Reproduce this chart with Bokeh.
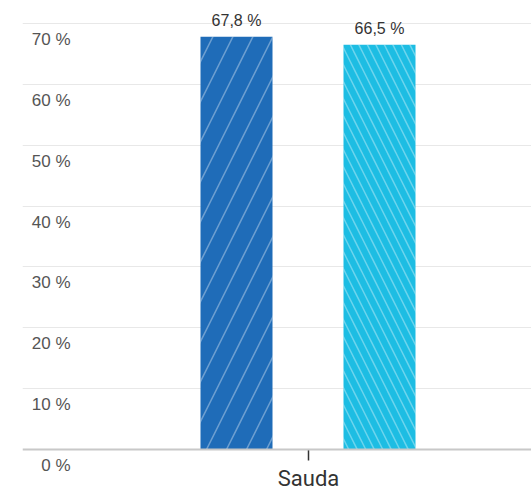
from bokeh.plotting import figure
from bokeh.models import FixedTicker, Span
from bokeh.core.properties import value
from bokeh.embed import file_html
from bokeh.resources import INLINE

categories = ["Sauda"]
series_names = ["A", "B"]
series_values = [67.8, 66.5]
value_labels = ["67,8 %", "66,5 %"]
y_ticks = [0, 10, 20, 30, 40, 50, 60, 70]
y_tick_labels = ["0 %", "10 %", "20 %", "30 %", "40 %", "50 %", "60 %", "70 %"]
colors = ["#1f6cb8", "#1dbde3"]
hatches = ["/", "\\"]
hatch_scales = [40, 17]

px_per_unit = 6.086
top_px = 8
frame_h = 492 - top_px
y_start = -(492 - 449) / px_per_unit
y_end = y_start + frame_h / px_per_unit

cat_px = 572.0
left_px = 22
frame_w = 531 - left_px
x_start = -0.5
x_end = x_start + frame_w / cat_px

p = figure(width=531, height=492, output_backend="svg", toolbar_location=None,
           x_range=(x_start, x_end), y_range=(y_start, y_end),
           min_border_left=left_px, min_border_right=0, min_border_top=top_px, min_border_bottom=0)
p.outline_line_color = None
p.xaxis.visible = False
p.yaxis.visible = False
p.xgrid.visible = False
p.ygrid.ticker = FixedTicker(ticks=y_ticks[1:])
p.ygrid.grid_line_color = "#e8e8e8"
p.ygrid.grid_line_width = 1

bar_w = 72 / cat_px
offsets = [-72 / cat_px, 71 / cat_px]
for i, v in enumerate(series_values):
    x = 0 + offsets[i]
    p.vbar(x=[x], top=[v], bottom=0, width=bar_w, fill_color=colors[i], line_color=None,
           hatch_pattern=hatches[i], hatch_color="white", hatch_alpha=0.35,
           hatch_scale=hatch_scales[i], hatch_weight=1.5)
    p.text(x=[x], y=[v], text=[value_labels[i]], text_align="center", text_baseline="bottom",
           y_offset=-8, text_font=value("Liberation Sans"), text_font_size="16px",
           text_color="#333333")

# baseline
p.add_layout(Span(location=0, dimension="width", line_color="#c8c8c8", line_width=2))

# y tick labels drawn inside plot
lab_x = (70 - 308) / cat_px
p.text(x=[lab_x] * len(y_ticks), y=y_ticks, text=y_tick_labels, text_align="right",
       text_baseline="middle", y_offset=16, text_font=value("Liberation Sans"),
       text_font_size="17px", text_color="#555555")

# category tick and label
for i, c in enumerate(categories):
    p.segment(x0=[i], y0=[0], x1=[i], y1=[-11 / px_per_unit], line_color="#333333", line_width=1.5)
    p.text(x=[i], y=[0], text=[c], text_align="center", text_baseline="middle", y_offset=29,
           text_font=value("Roboto"), text_font_size="22px", text_color="#333333")

open("out.html", "w").write(file_html(p, INLINE))
